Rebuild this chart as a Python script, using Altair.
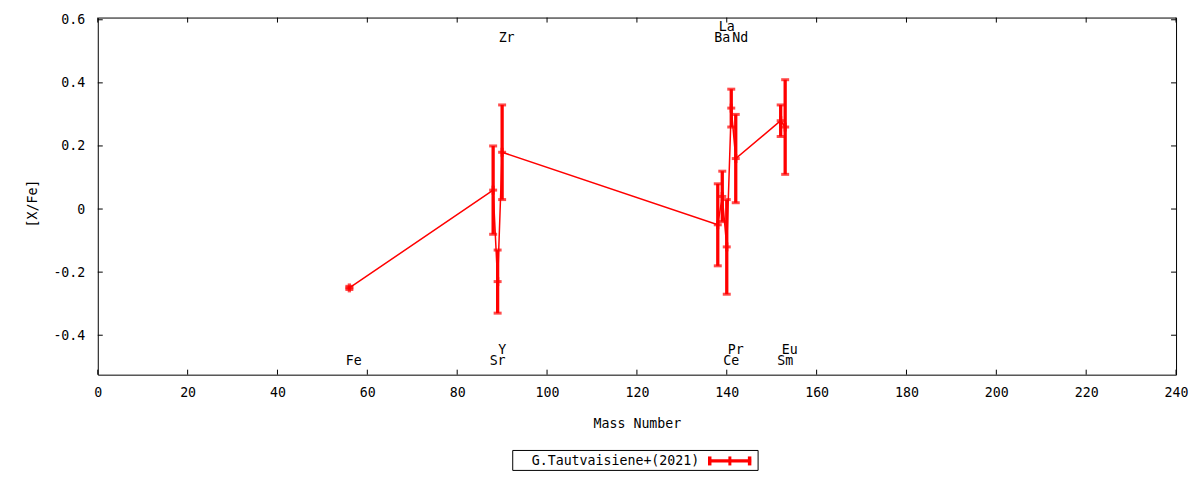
import altair as alt
import pandas as pd

# ---- data ----
elements = ["Fe", "Sr", "Y", "Zr", "Ba", "La", "Ce", "Pr", "Nd", "Sm", "Eu"]
mass = [56, 88, 89, 90, 138, 139, 140, 141, 142, 152, 153]
x_fe = [-0.25, 0.06, -0.23, 0.18, -0.05, 0.04, -0.12, 0.32, 0.16, 0.28, 0.26]
x_fe_err = [0.005, 0.14, 0.10, 0.15, 0.13, 0.08, 0.15, 0.06, 0.14, 0.05, 0.15]
label_row = ["bottom", "bottom", "bottom2", "top", "top", "top2",
             "bottom", "bottom2", "top", "bottom", "bottom2"]
x_ticks = list(range(0, 241, 20))
y_ticks = [-0.4, -0.2, 0.0, 0.2, 0.4, 0.6]
legend_label = "G.Tautvaisiene+(2021)"

# ---- layout ----
W, H = 1081, 358
XDOM = [0, 240]
YDOM = [-0.525, 0.607]
FONT = "DejaVu Sans Mono"
FS = 13.3
RED = "#ff0000"

df = pd.DataFrame({
    "element": elements,
    "mass": mass,
    "xfe": x_fe,
    "err": x_fe_err,
    "row": label_row,
})
df["lo"] = df["xfe"] - df["err"]
df["hi"] = df["xfe"] + df["err"]

xs = alt.Scale(domain=XDOM, nice=False, zero=False)
ys = alt.Scale(domain=YDOM, nice=False, zero=False)

X_AXIS = alt.Axis(
    values=x_ticks, format="d", ticks=False, tickSize=0, domain=False, grid=False,
    labelPadding=11, labelFlush=False, labelFont=FONT, labelFontSize=FS, labelColor="black",
    title="Mass Number", titleFont=FONT, titleFontSize=FS, titleFontWeight="normal",
    titleColor="black", titleY=49, titleBaseline="middle",
)
Y_AXIS = alt.Axis(
    values=y_ticks, labelExpr="'' + (round(datum.value*10)/10)",
    ticks=False, tickSize=0, domain=False, grid=False,
    labelPadding=13, labelFlush=False, labelFont=FONT, labelFontSize=FS, labelColor="black",
    title="[X/Fe]", titleFont=FONT, titleFontSize=FS, titleFontWeight="normal",
    titleColor="black", titleX=-65, titleY=186, titleBaseline="middle", titleAlign="center",
    titleAngle=270,
)


def X(f):
    return alt.X(f, scale=xs, axis=X_AXIS)


def Y(f):
    return alt.Y(f, scale=ys, axis=Y_AXIS)


base = alt.Chart(df)

line = base.mark_line(color=RED, strokeWidth=1.5).encode(x=X("mass:Q"), y=Y("xfe:Q"), order="mass:Q")

bars = base.mark_rule(color=RED, strokeWidth=3.3).encode(x=X("mass:Q"), y=Y("lo:Q"), y2="hi:Q")

caps = base.transform_fold(["lo", "hi", "xfe"], as_=["k", "v"]).mark_tick(
    color=RED, orient="horizontal", size=8, thickness=3
).encode(x=X("mass:Q"), y=Y("v:Q"))

# vertical stroke of the "+" point symbol
pts = base.mark_tick(color=RED, orient="vertical", size=9, thickness=3.3).encode(
    x=X("mass:Q"), y=Y("xfe:Q"))

labels = base.transform_calculate(
    ly="datum.row == 'top' ? 0.543 : datum.row == 'top2' ? 0.577 : datum.row == 'bottom' ? -0.483 : -0.446"
).mark_text(font=FONT, fontSize=FS, color="black", align="center", baseline="middle", dx=4.5).encode(
    x=X("mass:Q"), y=Y("ly:Q"), text="element:N",
)

# inward, mirrored tick marks (gnuplot style)
xt = alt.Chart(pd.DataFrame({"t": x_ticks}))
yt = alt.Chart(pd.DataFrame({"t": y_ticks}))
tick_b = xt.mark_rule(color="black", strokeWidth=1).encode(
    x=X("t:Q"), y=alt.value(H), y2=alt.value(H - 5))
tick_t = xt.mark_rule(color="black", strokeWidth=1).encode(
    x=X("t:Q"), y=alt.value(0), y2=alt.value(5))
tick_l = yt.mark_rule(color="black", strokeWidth=1).encode(
    y=Y("t:Q"), x=alt.value(0), x2=alt.value(5))
tick_r = yt.mark_rule(color="black", strokeWidth=1).encode(
    y=Y("t:Q"), x=alt.value(W), x2=alt.value(W - 5))

# legend box below the plot
one = alt.Data(values=[{"a": 1}])
LY = 444.5
leg_box = alt.Chart(one).mark_rect(fillOpacity=0, stroke="black", strokeWidth=1).encode(
    x=alt.value(416), x2=alt.value(662), y=alt.value(434), y2=alt.value(454))
leg_text = alt.Chart(one).mark_text(
    font=FONT, fontSize=FS, color="black", align="right", baseline="middle"
).encode(x=alt.value(603), y=alt.value(LY), text=alt.value(legend_label))
leg_line = alt.Chart(one).mark_rule(color=RED, strokeWidth=3.3).encode(
    x=alt.value(612), x2=alt.value(655), y=alt.value(LY))
leg_cap1 = alt.Chart(one).mark_rule(color=RED, strokeWidth=3.5).encode(
    x=alt.value(613.5), y=alt.value(LY - 4.5), y2=alt.value(LY + 4.5))
leg_cap2 = alt.Chart(one).mark_rule(color=RED, strokeWidth=3).encode(
    x=alt.value(633.7), y=alt.value(LY - 4.5), y2=alt.value(LY + 4.5))
leg_cap3 = alt.Chart(one).mark_rule(color=RED, strokeWidth=3.5).encode(
    x=alt.value(653.5), y=alt.value(LY - 4.5), y2=alt.value(LY + 4.5))

chart = alt.layer(
    line, bars, caps, pts, labels, tick_b, tick_t, tick_l, tick_r,
    leg_box, leg_text, leg_line, leg_cap1, leg_cap2, leg_cap3,
).properties(
    width=W, height=H,
    autosize=alt.AutoSizeParams(type="none"),
    padding={"left": 90, "top": 9, "right": 16, "bottom": 96},
    background="white",
).configure_view(stroke="black", strokeWidth=1)

chart.save("out.html", embed_options={"renderer": "svg", "actions": False})
